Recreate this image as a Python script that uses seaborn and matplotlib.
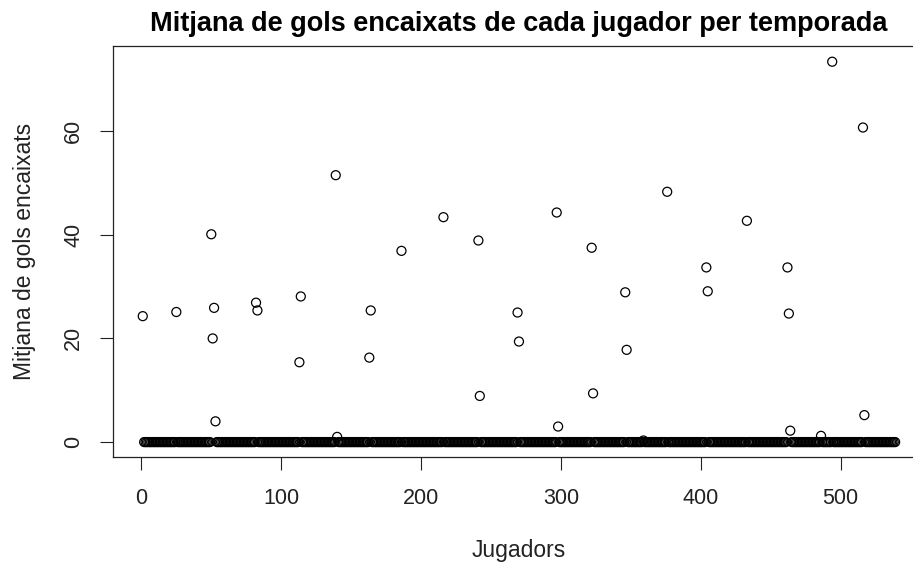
import numpy as np
import pandas as pd
import matplotlib
matplotlib.use("Agg")
import matplotlib.pyplot as plt
import seaborn as sns

# Players are numbered 1..n_jugadors; most conceded no goals on average.
n_jugadors = 539

# Players with a non-zero average of goals conceded per season
jugador_idx = [1, 25, 50, 51, 52, 53, 82, 83, 113, 114, 139, 140, 163, 164,
               186, 216, 241, 242, 269, 270, 297, 298, 322, 323, 346, 347,
               359, 376, 404, 405, 433, 462, 463, 464, 486, 494, 516, 517]
mitjana_gols = [24.3, 25.1, 40.1, 20.0, 25.9, 4.0, 26.9, 25.4, 15.4, 28.1,
                51.5, 1.0, 16.3, 25.4, 36.9, 43.4, 38.9, 8.9, 25.0, 19.4,
                44.3, 3.0, 37.5, 9.4, 28.9, 17.8, 0.3, 48.3, 33.7, 29.1,
                42.7, 33.7, 24.8, 2.2, 1.2, 73.4, 60.7, 5.2]

x_ticks = [0, 100, 200, 300, 400, 500]
y_ticks = [0, 20, 40, 60]

jugadors = np.arange(1, n_jugadors + 1)
mitjana = np.zeros(n_jugadors)
mitjana[np.array(jugador_idx) - 1] = mitjana_gols
df = pd.DataFrame({"Jugadors": jugadors, "Mitjana": mitjana})

sns.set_theme(style="white")
plt.rcParams["font.family"] = ["Liberation Sans", "DejaVu Sans"]

fig = plt.figure(figsize=(9.13, 5.67), dpi=100)
ax = fig.add_axes([0.1234, 0.1935, 0.890, 0.7245])

# A per-point size array makes every circle render at its exact sub-pixel
# position, so the densely packed zeros merge into a solid band.
marker_sizes = np.full(len(df), 42.0)
sns.scatterplot(data=df, x="Jugadors", y="Mitjana", ax=ax, marker="o",
                s=marker_sizes, facecolors="none", edgecolors="black",
                linewidths=0.9, legend=False)

# R-style axis ranges: 4% padding on each side of the data
xr = jugadors.max() - jugadors.min()
yr = mitjana.max() - mitjana.min()
ax.set_xlim(jugadors.min() - 0.04 * xr, jugadors.max() + 0.04 * xr)
ax.set_ylim(mitjana.min() - 0.04 * yr, mitjana.max() + 0.04 * yr)

ax.set_xticks(x_ticks)
ax.set_yticks(y_ticks)
ax.tick_params(axis="both", direction="out", length=9.4, width=0.8,
               color="#222222", labelsize=15.5, labelcolor="#222222",
               bottom=True, left=True)
ax.tick_params(axis="x", pad=13)
ax.tick_params(axis="y", pad=11, labelrotation=90)
for lab in ax.get_yticklabels():
    lab.set_va("center")

for sp in ax.spines.values():
    sp.set_visible(True)
    sp.set_color("#222222")
    sp.set_linewidth(0.9)

ax.set_title("Mitjana de gols encaixats de cada jugador per temporada",
             fontsize=19.5, fontweight="bold", color="black", pad=11.5)
ax.set_xlabel("Jugadors", fontsize=16.5, color="#222222", va="center")
ax.xaxis.set_label_coords(0.5, -0.2257)
ax.set_ylabel("Mitjana de gols encaixats", fontsize=16.5, color="#222222",
              va="center")
ax.yaxis.set_label_coords(-0.108, 0.5)

fig.savefig("out.png", dpi=100)
